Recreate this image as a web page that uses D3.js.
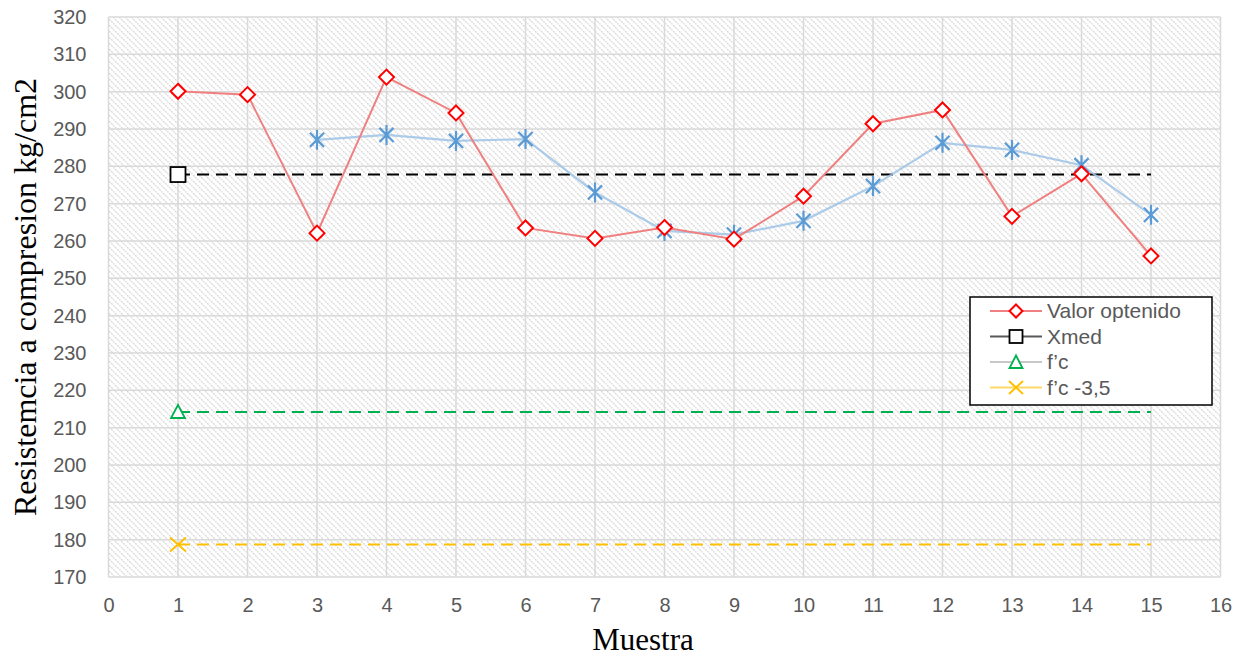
<!DOCTYPE html>
<html>
<head>
<meta charset="utf-8">
<script src="https://cdn.jsdelivr.net/npm/d3@7"></script>
<style>
  html, body { margin: 0; padding: 0; background: #ffffff; }
  svg { display: block; }
</style>
</head>
<body>
<svg id="chart" width="1244" height="661"></svg>
<script>
// Compression strength per sample (kg/cm2)
const muestras = [1, 2, 3, 4, 5, 6, 7, 8, 9, 10, 11, 12, 13, 14, 15];
const valorOptenido = [300.1, 299.2, 262.1, 303.9, 294.3, 263.5, 260.7, 263.6, 260.5, 272.0, 291.4, 295.1, 266.6, 278.0, 256.0];
// Running series drawn with star markers (samples 3..15)
const muestrasMovil = [3, 4, 5, 6, 7, 8, 9, 10, 11, 12, 13, 14, 15];
const valorMovil = [287.1, 288.4, 286.8, 287.3, 273.0, 262.7, 261.7, 265.4, 274.7, 286.3, 284.4, 280.3, 267.0];
// Reference levels
const xmed = 277.8;
const fc = 214.2;
const fcMenos = 178.7;

const xTicks = d3.range(0, 17, 1);
const yTicks = d3.range(170, 321, 10);

const legendLabels = ["Valor optenido", "Xmed", "f\u2019c", "f\u2019c -3,5"];

const svg = d3.select("#chart");
const margin = { left: 108.5, right: 1244 - 1220.5, top: 17, bottom: 661 - 577 };
const W = 1244, H = 661;

const x = d3.scaleLinear().domain([0, 16]).range([margin.left, W - margin.right]);
const y = d3.scaleLinear().domain([170, 320]).range([H - margin.bottom, margin.top]);

// Diagonal hatch for the plot area
const defs = svg.append("defs");
const pat = defs.append("pattern")
  .attr("id", "hatch")
  .attr("patternUnits", "userSpaceOnUse")
  .attr("width", 6).attr("height", 6);
pat.append("rect").attr("width", 6).attr("height", 6).attr("fill", "#ffffff");
pat.append("path")
  .attr("d", "M-1,-1 L7,7 M-1,5 L1,7 M5,-1 L7,1")
  .attr("stroke", "#d6d6d6").attr("stroke-width", 1.3)
  .attr("stroke-dasharray", "2,1");

svg.append("rect")
  .attr("x", x(0)).attr("y", y(320))
  .attr("width", x(16) - x(0)).attr("height", y(170) - y(320))
  .attr("fill", "url(#hatch)");

// Gridlines
const grid = svg.append("g");
grid.selectAll("line.h").data(yTicks).join("line")
  .attr("x1", x(0)).attr("x2", x(16))
  .attr("y1", d => y(d)).attr("y2", d => y(d))
  .attr("stroke", "#d9d9d9").attr("stroke-width", 1.5);
grid.selectAll("line.v").data(xTicks).join("line")
  .attr("y1", y(170)).attr("y2", y(320))
  .attr("x1", d => x(d)).attr("x2", d => x(d))
  .attr("stroke", "#d9d9d9").attr("stroke-width", 1.5);

// Axes (labels only)
const tickFont = "'Liberation Sans', Arial, sans-serif";
const xAxis = svg.append("g")
  .attr("transform", `translate(0,${y(170)})`)
  .call(d3.axisBottom(x).tickValues(xTicks).tickSize(0).tickPadding(21).tickFormat(d3.format("d")));
const yAxis = svg.append("g")
  .attr("transform", `translate(${x(0)},0)`)
  .call(d3.axisLeft(y).tickValues(yTicks).tickSize(0).tickPadding(22).tickFormat(d3.format("d")));
[xAxis, yAxis].forEach(a => {
  a.select(".domain").remove();
  a.selectAll("text").attr("fill", "#595959").style("font-size", "20px").style("font-family", tickFont);
});

// Axis titles
svg.append("text")
  .attr("x", 643).attr("y", 650)
  .attr("text-anchor", "middle")
  .style("font-family", "'Liberation Serif', 'Times New Roman', serif")
  .style("font-size", "31px").attr("fill", "#000")
  .text("Muestra");
svg.append("text")
  .attr("transform", `translate(36,${(y(170) + y(320)) / 2}) rotate(-90)`)
  .attr("text-anchor", "middle")
  .style("font-family", "'Liberation Serif', 'Times New Roman', serif")
  .style("font-size", "32px").attr("fill", "#000")
  .text("Resistemcia a compresion kg/cm2");

// Reference dashed lines
const refs = [
  { v: xmed, color: "#000000" },
  { v: fc, color: "#00b050" },
  { v: fcMenos, color: "#ffc000" }
];
svg.selectAll("line.ref").data(refs).join("line")
  .attr("x1", x(1)).attr("x2", x(15))
  .attr("y1", d => y(d.v)).attr("y2", d => y(d.v))
  .attr("stroke", d => d.color).attr("stroke-width", 2)
  .attr("stroke-dasharray", "12,7");

// Line generator
const line = d3.line().x(d => x(d[0])).y(d => y(d[1]));

// Star series
const movil = d3.zip(muestrasMovil, valorMovil);
svg.append("path").datum(movil)
  .attr("d", line).attr("fill", "none")
  .attr("stroke", "#9dc3e6").attr("stroke-width", 2.2).attr("stroke-opacity", 0.85);

// Measured values line
const valores = d3.zip(muestras, valorOptenido);
svg.append("path").datum(valores)
  .attr("d", line).attr("fill", "none")
  .attr("stroke", "#f08080").attr("stroke-width", 2);

// Star markers
const star = r => {
  const a = r * Math.cos(Math.PI / 4);
  return `M0,${-r}L0,${r}M${-a},${-a}L${a},${a}M${-a},${a}L${a},${-a}`;
};
svg.selectAll("path.star").data(movil).join("path")
  .attr("transform", d => `translate(${x(d[0])},${y(d[1])})`)
  .attr("d", star(10))
  .attr("stroke", "#5b9bd5").attr("stroke-width", 2.2).attr("fill", "none");

// Diamond markers
svg.selectAll("path.diamond").data(valores).join("path")
  .attr("transform", d => `translate(${x(d[0])},${y(d[1])})`)
  .attr("d", "M0,-7.5L7.5,0L0,7.5L-7.5,0Z")
  .attr("fill", "#ffffff").attr("stroke", "#ff0000").attr("stroke-width", 2);

// Single markers at sample 1 for the reference levels
svg.append("rect")
  .attr("x", x(1) - 7.5).attr("y", y(xmed) - 7.5).attr("width", 15).attr("height", 15)
  .attr("fill", "#ffffff").attr("stroke", "#000").attr("stroke-width", 1.8);
svg.append("path")
  .attr("transform", `translate(${x(1)},${y(fc)})`)
  .attr("d", "M0,-7L7,6L-7,6Z")
  .attr("fill", "#ffffff").attr("stroke", "#00b050").attr("stroke-width", 1.8);
svg.append("path")
  .attr("transform", `translate(${x(1)},${y(fcMenos)})`)
  .attr("d", "M-8,-7L8,7M-8,7L8,-7")
  .attr("stroke", "#ffc000").attr("stroke-width", 2).attr("fill", "none");

// Legend
const lg = svg.append("g").attr("transform", "translate(970,297)");
lg.append("rect").attr("width", 242).attr("height", 108)
  .attr("fill", "#ffffff").attr("stroke", "#000").attr("stroke-width", 1.5);
const legendLine = ["#f08080", "#595959", "#c8c8c8", "#ffd966"];
legendLabels.forEach((lab, i) => {
  const cy = 14 + i * 25.5;
  const g = lg.append("g").attr("transform", `translate(0,${cy})`);
  g.append("line").attr("x1", 20).attr("x2", 72).attr("y1", 0).attr("y2", 0)
    .attr("stroke", legendLine[i]).attr("stroke-width", 2);
  const m = g.append("g").attr("transform", "translate(46,0)");
  if (i === 0) {
    m.append("path").attr("d", "M0,-6.5L6.5,0L0,6.5L-6.5,0Z")
      .attr("fill", "#fff").attr("stroke", "#ff0000").attr("stroke-width", 2);
  } else if (i === 1) {
    m.append("rect").attr("x", -6.5).attr("y", -6.5).attr("width", 13).attr("height", 13)
      .attr("fill", "#fff").attr("stroke", "#000").attr("stroke-width", 1.8);
  } else if (i === 2) {
    m.append("path").attr("d", "M0,-6.5L6.5,6L-6.5,6Z")
      .attr("fill", "#fff").attr("stroke", "#00b050").attr("stroke-width", 1.8);
  } else {
    m.append("path").attr("d", "M-7,-6.5L7,6.5M-7,6.5L7,-6.5")
      .attr("stroke", "#ffc000").attr("stroke-width", 2);
  }
  g.append("text").attr("x", 77).attr("y", 0).attr("dy", "0.35em")
    .style("font-family", tickFont).style("font-size", "21px")
    .attr("fill", "#595959").text(lab);
});
</script>
</body>
</html>
